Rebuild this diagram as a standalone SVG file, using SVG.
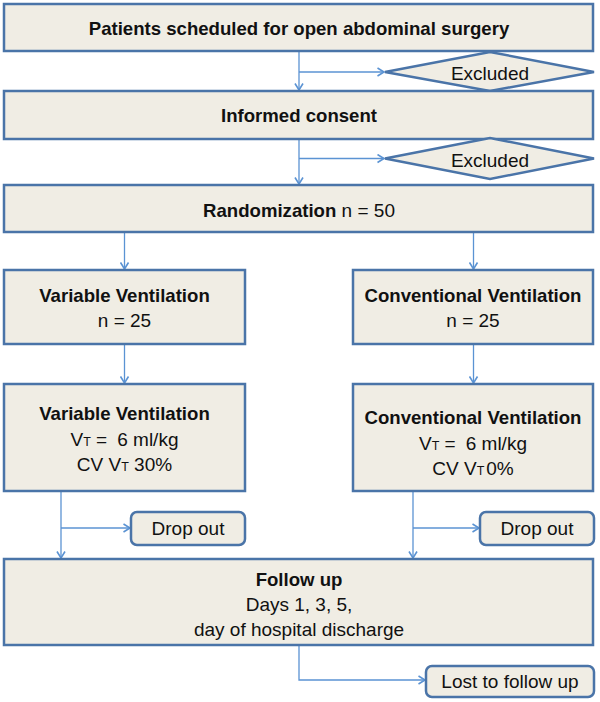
<svg xmlns="http://www.w3.org/2000/svg" width="600" height="702" viewBox="0 0 600 702">
<defs>
<marker id="arr" markerWidth="10" markerHeight="10" refX="8" refY="5" orient="auto" markerUnits="userSpaceOnUse">
<path d="M1.5,1 L8,5 L1.5,9" fill="none" stroke="#5b93d3" stroke-width="1.6"/>
</marker>
</defs>
<style>
.box{fill:#f0ede4;stroke:#4a74a8;stroke-width:2.5}
.t{font-family:"Liberation Sans",Arial,sans-serif;font-size:19px;fill:#111;text-anchor:middle}
.b{font-weight:bold;font-size:18.6px}
.sub{font-size:12.5px}
.c{fill:none;stroke:#5b93d3;stroke-width:1.3}
.ca{fill:none;stroke:#5b93d3;stroke-width:1.3;marker-end:url(#arr)}
</style>
<rect width="600" height="702" fill="#fff"/>
<g id="connectors">
<line class="ca" x1="299" y1="51" x2="299" y2="90"/>
<line class="ca" x1="299" y1="72" x2="384" y2="72"/>
<line class="ca" x1="299" y1="139" x2="299" y2="184"/>
<line class="ca" x1="299" y1="158.5" x2="384" y2="158.5"/>
<line class="ca" x1="124.5" y1="232" x2="124.5" y2="269"/>
<line class="ca" x1="473.5" y1="232" x2="473.5" y2="269"/>
<line class="ca" x1="124.5" y1="344" x2="124.5" y2="383"/>
<line class="ca" x1="473.5" y1="344" x2="473.5" y2="383"/>
<line class="ca" x1="61" y1="491" x2="61" y2="558"/>
<line class="ca" x1="61" y1="528" x2="130" y2="528"/>
<line class="ca" x1="413" y1="491" x2="413" y2="558"/>
<line class="ca" x1="413" y1="528" x2="479" y2="528"/>
<polyline class="ca" points="299,645 299,680 425,680"/>
</g>
<g id="patients">
<rect class="box" x="4" y="4" width="589" height="47"/>
<text class="t b" x="299" y="35">Patients scheduled for open abdominal surgery</text>
</g>
<g id="excluded1">
<polygon class="box" points="385,72 490,52 594,72 490,91"/>
<text class="t" x="490" y="79.5">Excluded</text>
</g>
<g id="consent">
<rect class="box" x="4" y="91" width="589" height="48"/>
<text class="t b" x="299" y="122">Informed consent</text>
</g>
<g id="excluded2">
<polygon class="box" points="385,158.5 490,138 594,158.5 490,179"/>
<text class="t" x="490" y="166.5">Excluded</text>
</g>
<g id="randomization">
<rect class="box" x="4" y="185" width="589" height="47"/>
<text class="t" x="299" y="217"><tspan font-weight="bold" font-size="18.6">Randomization</tspan> n = 50</text>
</g>
<g id="variable1">
<rect class="box" x="4" y="270" width="241" height="74"/>
<text class="t b" x="124.5" y="302">Variable Ventilation</text>
<text class="t" x="124.5" y="327">n = 25</text>
</g>
<g id="conventional1">
<rect class="box" x="353" y="270" width="240" height="74"/>
<text class="t b" x="473" y="302">Conventional Ventilation</text>
<text class="t" x="473" y="327">n = 25</text>
</g>
<g id="variable2">
<rect class="box" x="4" y="384" width="241" height="107"/>
<text class="t b" x="124.5" y="420">Variable Ventilation</text>
<text class="t" x="124.5" y="446">V<tspan class="sub">T</tspan> =<tspan dx="10">6 ml/kg</tspan></text>
<text class="t" x="124.5" y="471">CV V<tspan class="sub">T</tspan> 30%</text>
</g>
<g id="conventional2">
<rect class="box" x="353" y="384" width="240" height="107"/>
<text class="t b" x="473" y="424">Conventional Ventilation</text>
<text class="t" x="473" y="450">V<tspan class="sub">T</tspan> =<tspan dx="10">6 ml/kg</tspan></text>
<text class="t" x="473" y="475">CV V<tspan class="sub">T</tspan><tspan dx="2">0%</tspan></text>
</g>
<g id="dropout1">
<rect class="box" x="131" y="512" width="114" height="33" rx="6"/>
<text class="t" x="188" y="535">Drop out</text>
</g>
<g id="dropout2">
<rect class="box" x="480" y="512" width="114" height="33" rx="6"/>
<text class="t" x="537" y="535">Drop out</text>
</g>
<g id="followup">
<rect class="box" x="4" y="559" width="589" height="86"/>
<text class="t b" x="299" y="586">Follow up</text>
<text class="t" x="299" y="611">Days 1, 3, 5,</text>
<text class="t" x="299" y="636">day of hospital discharge</text>
</g>
<g id="lost">
<rect class="box" x="426" y="666" width="168" height="31" rx="6"/>
<text class="t" x="510" y="688">Lost to follow up</text>
</g>
</svg>
